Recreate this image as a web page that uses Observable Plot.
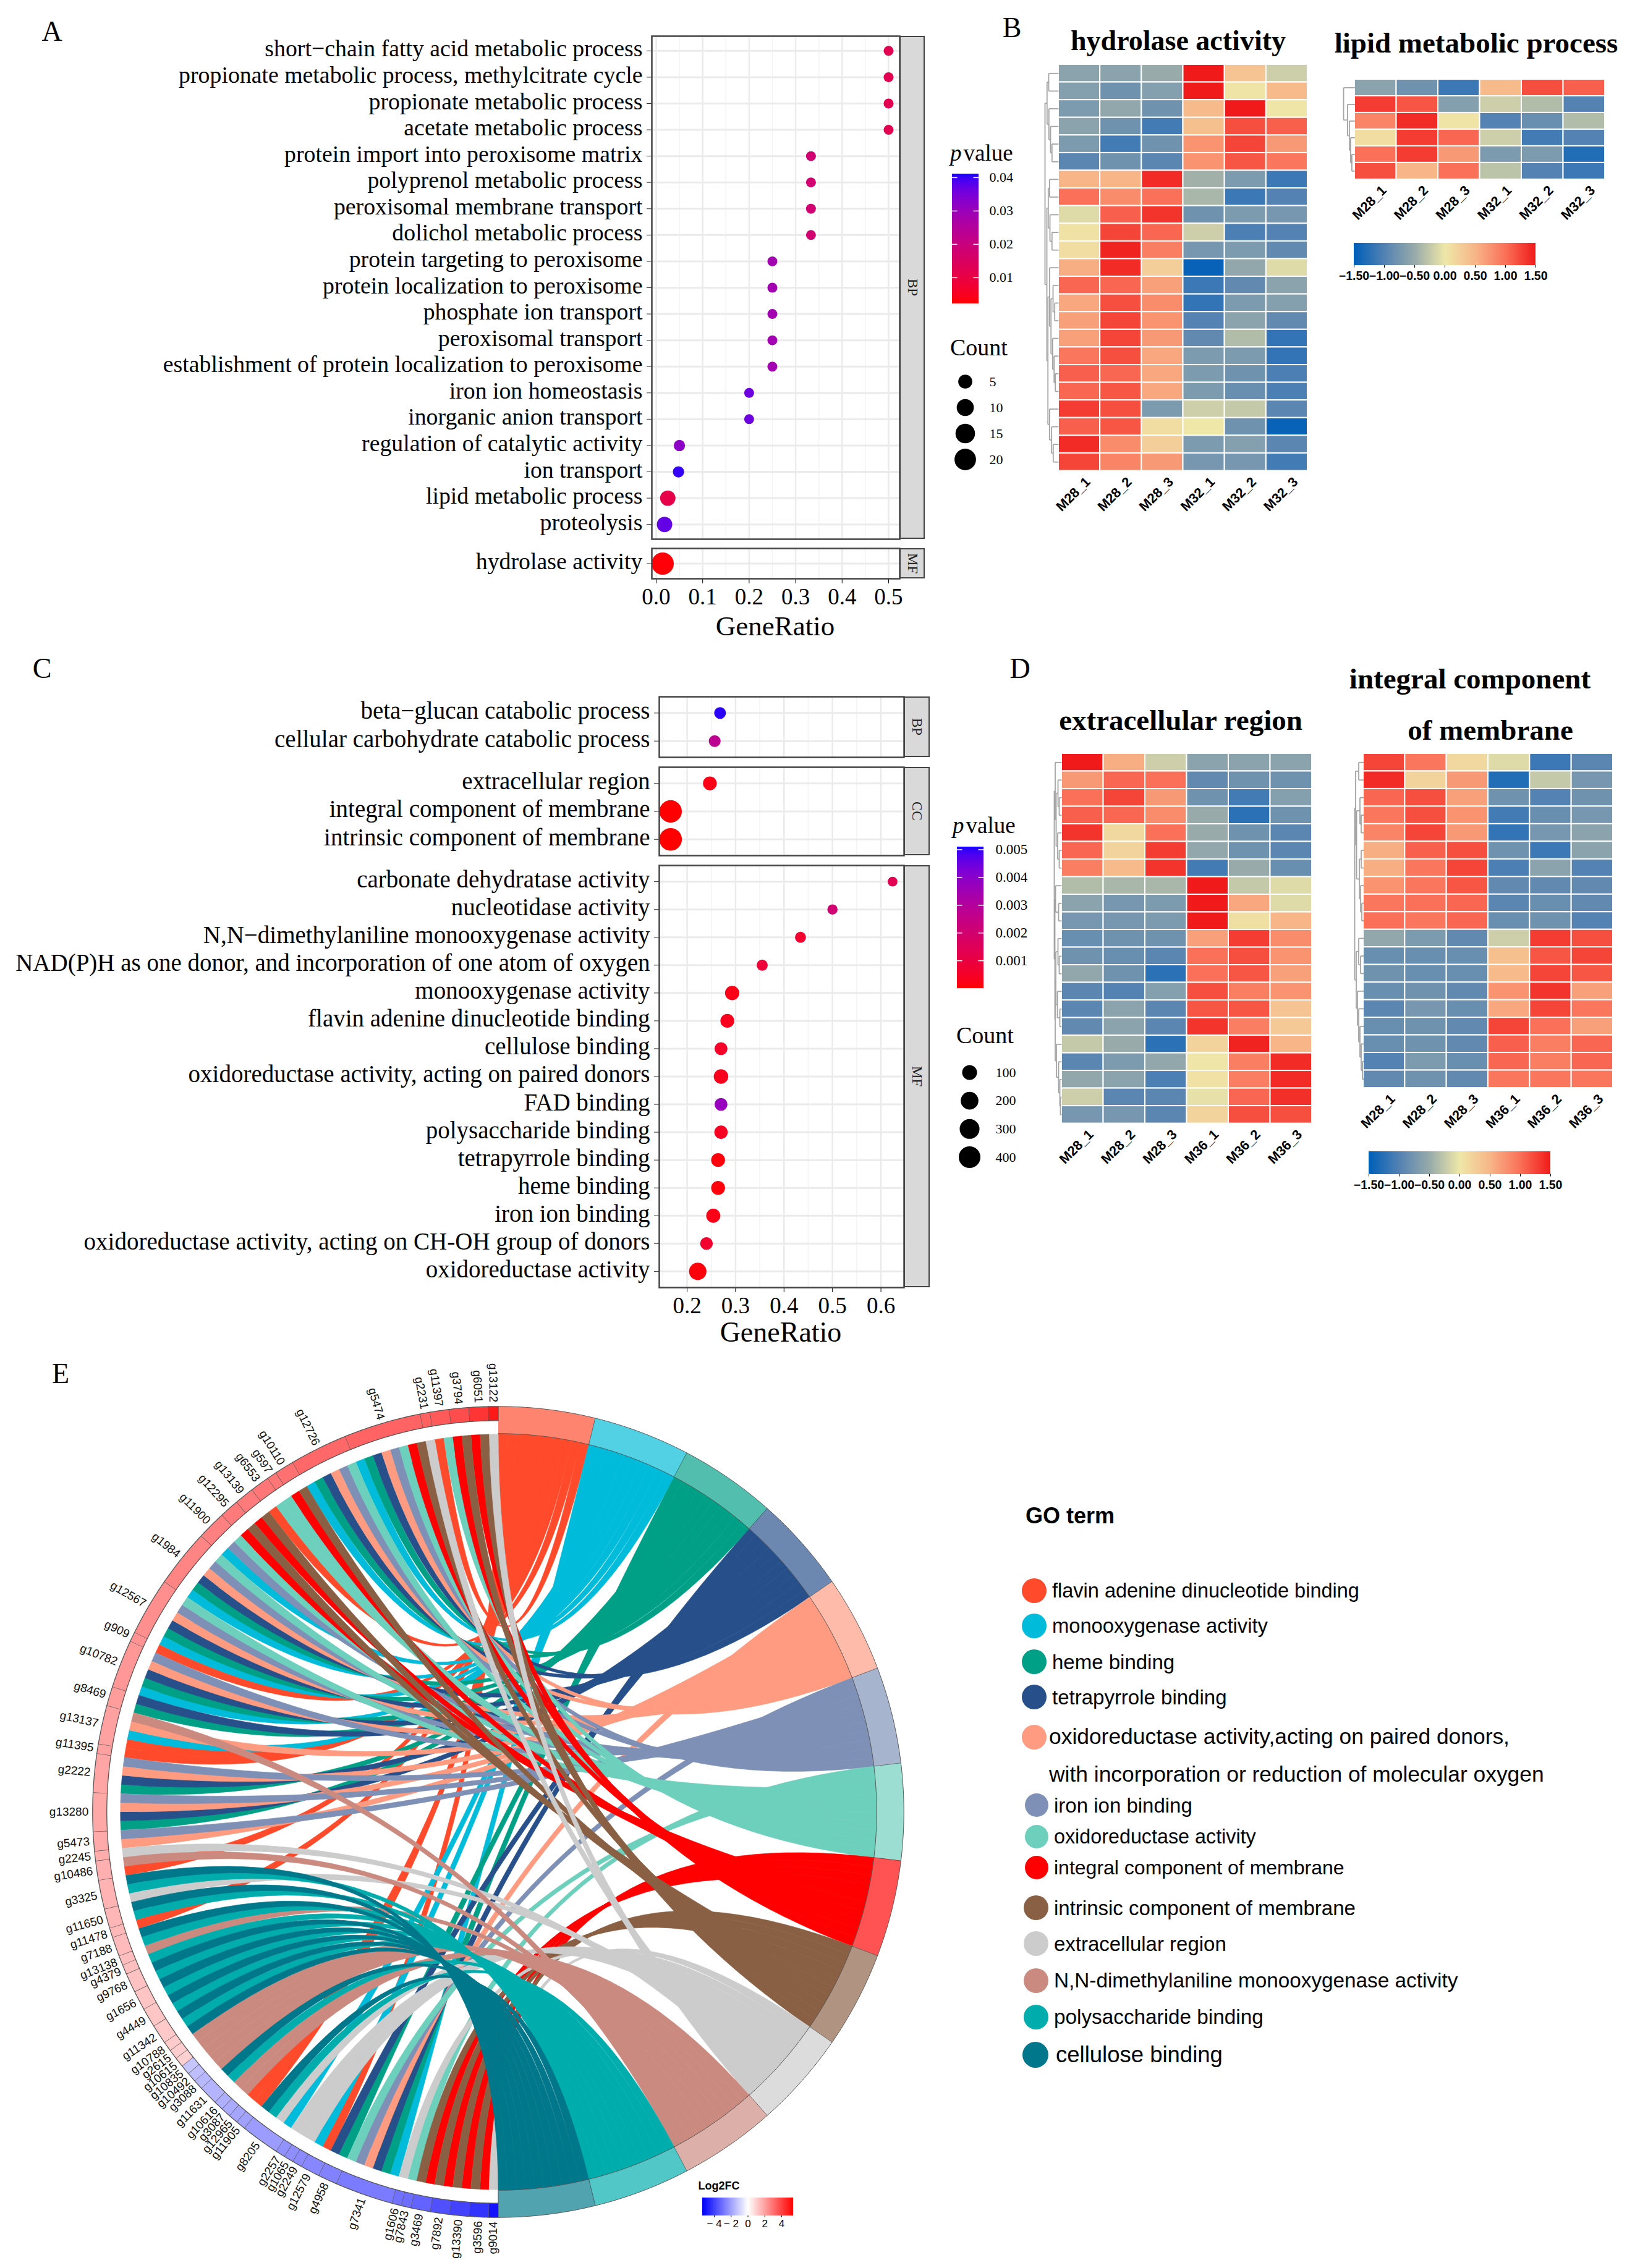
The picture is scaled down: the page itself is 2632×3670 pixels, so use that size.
<!doctype html>
<html><head><meta charset="utf-8">
<script src="https://cdn.jsdelivr.net/npm/d3@7"></script>
<script src="https://cdn.jsdelivr.net/npm/@observablehq/plot@0.6"></script>
<style>
html,body{margin:0;background:#fff}
#page{position:relative;width:2632px;height:3670px;overflow:hidden;background:#fff}
#page svg{position:absolute;overflow:visible;background:transparent;max-width:none}
.t{position:absolute;white-space:nowrap;line-height:1;color:#000}
.strip{position:absolute;box-sizing:border-box;background:#D9D9D9;border:2.5px solid #444;display:flex;align-items:center;justify-content:center;font:23px "Liberation Serif";color:#222;writing-mode:vertical-rl}
.dot{position:absolute;border-radius:50%}
</style></head><body><div id="page"></div>
<script>
// ---------- Panel A data ----------
const aTermsBP = ["short−chain fatty acid metabolic process","propionate metabolic process, methylcitrate cycle","propionate metabolic process","acetate metabolic process","protein import into peroxisome matrix","polyprenol metabolic process","peroxisomal membrane transport","dolichol metabolic process","protein targeting to peroxisome","protein localization to peroxisome","phosphate ion transport","peroxisomal transport","establishment of protein localization to peroxisome","iron ion homeostasis","inorganic anion transport","regulation of catalytic activity","ion transport","lipid metabolic process","proteolysis"];
const aRatioBP = [0.5,0.5,0.5,0.5,0.333,0.333,0.333,0.333,0.25,0.25,0.25,0.25,0.25,0.2,0.2,0.05,0.048,0.025,0.018];
const aCountBP = [1,1,1,1,1,1,1,1,1,1,1,1,1,1,1,2,2,7,7];
const aPBP = [0.012,0.012,0.012,0.012,0.0175,0.0175,0.0175,0.0175,0.0285,0.0285,0.0285,0.0285,0.0285,0.036,0.036,0.032,0.04,0.011,0.037];
const aTermsMF = ["hydrolase activity"];
const aRatioMF = [0.014];
const aCountMF = [22];
const aPMF = [0.0025];
const aTicks = [0,0.1,0.2,0.3,0.4,0.5];
const aMinor = [0.05,0.15,0.25,0.35,0.45];
const aColorTicks = [0.01,0.02,0.03,0.04];
const aCountTicks = [5,10,15,20];

// ---------- Panel C data ----------
const cTermsBP = ["beta−glucan catabolic process","cellular carbohydrate catabolic process"];
const cRatioBP = [0.268,0.257];
const cCountBP = [30,30];
const cPBP = [0.005,0.0027];
const cTermsCC = ["extracellular region","integral component of membrane","intrinsic component of membrane"];
const cRatioCC = [0.247,0.166,0.166];
const cCountCC = [70,450,460];
const cPCC = [0.0002,0,0];
const cTermsMF = ["carbonate dehydratase activity","nucleotidase activity","N,N−dimethylaniline monooxygenase activity","NAD(P)H as one donor, and incorporation of one atom of oxygen","monooxygenase activity","flavin adenine dinucleotide binding","cellulose binding","oxidoreductase activity, acting on paired donors","FAD binding","polysaccharide binding","tetrapyrrole binding","heme binding","iron ion binding","oxidoreductase activity, acting on CH-OH group of donors","oxidoreductase activity"];
const cRatioMF = [0.624,0.5,0.434,0.355,0.293,0.283,0.27,0.27,0.27,0.27,0.264,0.264,0.254,0.24,0.222];
const cCountMF = [6,10,18,20,85,70,50,90,50,60,72,72,78,45,190];
const cPMF = [0.0013,0.002,0.0006,0.0008,0.0002,0.0003,0.0005,0.0003,0.0037,0.0004,0.0001,0.0001,0.0002,0.0006,0.0001];
const cTicks = [0.2,0.3,0.4,0.5,0.6];
const cMinor = [0.15,0.25,0.35,0.45,0.55];
const cColorTicks = [0.001,0.002,0.003,0.004,0.005];
const cCountTicks = [100,200,300,400];

// ---------- Heatmaps ----------
const colsB = ["M28_1","M28_2","M28_3","M32_1","M32_2","M32_3"];
const colsD = ["M28_1","M28_2","M28_3","M36_1","M36_2","M36_3"];
const heatHydrolase = [
[-.6,-.6,-.5,1.5,.35,-.2],[-.65,-.8,-.65,1.5,.03,.45],[-.7,-.55,-.8,.45,1.5,.02],[-.6,-.8,-1.1,.4,1.2,1.1],
[-.7,-1.1,-.8,.75,1.25,.7],[-.95,-.8,-.95,.75,1.15,.95],[.5,.5,1.4,-.45,-.7,-1.15],[1.0,.8,1.0,-.4,-1.15,-1.0],
[-.1,1.1,1.35,-.8,-.7,-.75],[.05,1.25,1.05,-.2,-1.05,-1.0],[.1,1.45,.9,-.75,-.7,-.9],[.55,1.4,.25,-1.45,-.55,-.1],
[1.05,1.05,.65,-1.15,-.9,-.6],[.6,1.2,.8,-1.2,-.7,-.65],[.65,1.25,.75,-1.0,-.6,-.9],[.65,1.25,.7,-.9,-.35,-1.2],
[.95,1.2,.6,-.7,-.7,-1.2],[1.1,1.05,.6,-.7,-.8,-1.05],[1.05,1.15,.6,-.7,-.85,-1.05],[1.3,1.2,-.7,-.2,-.25,-.95],
[1.1,1.15,.1,0,-.8,-1.45],[1.4,.8,.25,-.7,-.65,-.95],[1.25,.85,.7,-.75,-.75,-1.1]];
const heatLipid = [
[-.6,-.8,-1.15,.45,1.2,1.1],[1.3,1.15,-.65,-.2,-.35,-1.0],[.85,1.4,.03,-1.0,-.85,-.35],
[.1,1.3,1.05,-.2,-1.1,-1.0],[1.0,1.3,.7,-.7,-.7,-1.3],[1.2,.5,1.0,-.3,-1.0,-1.15]];
const heatExtracellular = [
[1.5,.55,-.2,-.6,-.6,-.6],[.7,1.05,1.0,-.9,-.8,-.8],[1.0,1.25,.7,-.8,-1.1,-.65],[1.1,1.05,.8,-.5,-1.25,-.8],
[1.35,.15,1.0,-.5,-.8,-.95],[1.05,.2,1.3,-.55,-.8,-.95],[.9,.45,1.35,-1.1,-.5,-.85],[-.35,-.4,-.4,1.5,-.25,-.1],
[-.6,-.75,-.7,1.5,.6,-.1],[-.75,-.75,-.7,1.5,.08,.5],[-.85,-.8,-.8,.65,1.3,.8],[-.8,-.85,-.95,1.0,1.2,.75],
[-.55,-.8,-1.25,1.0,1.15,.65],[-.95,-1.0,-.65,1.2,.9,.75],[-.95,-.6,-.95,1.15,1.15,.35],[-.9,-.6,-.95,1.35,.9,.3],
[-.25,-.5,-1.25,.2,1.45,.5],[-.95,-.7,-.55,.02,.9,1.4],[-.55,-.6,-1.05,.05,.9,1.4],[-.2,-.95,-.95,-.05,1.05,1.38],[-.75,-.75,-.95,.2,1.2,1.2]];
const heatIntegral = [
[1.25,.95,.15,-.1,-1.15,-.95],[1.4,.2,.7,-1.3,-.25,-.75],[1.05,1.2,.65,-.8,-1.0,-.8],[.95,1.2,.75,-1.1,-.85,-.75],
[.85,1.25,.7,-1.2,-.75,-.6],[.55,1.1,1.2,-.8,-1.15,-.6],[.55,.95,1.25,-1.05,-.6,-1.0],[.75,.95,1.15,-.9,-.9,-.9],
[.95,1.0,1.05,-.95,-.85,-.9],[1.0,.95,1.05,-.85,-.8,-1.0],[-.55,-.7,-.9,-.2,1.3,1.2],[-.85,-.85,-.85,.4,1.15,1.25],
[-.8,-.85,-.85,.45,1.25,1.15],[-.85,-.8,-.9,.75,1.35,.65],[-.95,-.75,-.85,.6,1.25,.95],[-.85,-.8,-.9,1.25,1.0,.65],
[-.85,-.8,-.9,1.1,.9,1.05],[-1.0,-.7,-.85,1.05,.9,1.05],[-.9,-.8,-.9,.95,.95,.95]];
const heatTicks = [-1.5,-1,-.5,0,.5,1,1.5];
const heatStops = [-1.5,-1,-.5,0,.5,1,1.5];
const heatRamp = ["#0060B8","#5482B3","#98ABAA","#EFE7A8","#F7B588","#FA7058","#F01A1A"];
// dendrograms: [merge height, left branch, right branch]; numbers are row numbers
const treeHydrolase = [22,[18.7,[16,1,2],[15.7,3,[13,4,[10.7,5,6]]]],[19,[16.7,[14.7,7,8],[14,9,[10.7,10,11]]],[17.3,[14.7,12,[12.3,[9,13,[6.3,14,15]],[9.7,16,[7.3,17,[5.3,18,19]]]]],[14.7,20,[11.3,21,[8.7,22,23]]]]]];
const treeLipid = [18.4,1,[12,2,[9,3,[7,4,[5,5,6]]]]];
const treeExtracellular = [12,[10.5,1,[9,[6,2,[4,3,4]],[6.5,5,[4,6,7]]]],[11,[10,8,[5,9,10]],[10.5,[9.5,[6,11,[4,12,13]],[7,14,[3,15,16]]],[8.5,17,[5,18,[3,19,[2,20,21]]]]]]];
const treeIntegral = [14.5,[13,[8,1,2],[11.5,[6,3,[4,4,5]],[7,[4,6,7],[5,8,[3,9,10]]]]],[12,[8,11,[5,12,13]],[10,14,[8,15,[6,16,[4,17,[2,18,19]]]]]]];

// ---------- Chord ----------
const termCodes = ["F","M","H","T","P","I","O","R","B","E","N","S","C"];
const termNames = ["flavin adenine dinucleotide binding","monooxygenase activity","heme binding","tetrapyrrole binding","oxidoreductase activity,acting on paired donors,","iron ion binding","oxidoreductase activity","integral component of membrane","intrinsic component of membrane","extracellular region","N,N-dimethylaniline monooxygenase activity","polysaccharide binding","cellulose binding"];
const termColors = ["#FF4A2B","#00BBD9","#00A087","#27508A","#FF9B80","#7E90B5","#6DD0BC","#FF0000","#8A6044","#CCCCCC","#CB8A80","#00ADAD","#00778A"];
const genes = ["g9014","g3596","g13390","g7892","g3469","g7843","g1606","g7341","g4958","g12579","g2249","g1065","g2257","g8205","g11905","g12965","g3087","g10616","g11631","g3088","g10492","g10835","g10615","g2615","g10788","g11342","g4449","g1656","g9768","g4379","g13138","g7188","g11478","g11650","g3325","g10486","g2245","g5473","g13280","g2222","g11395","g13137","g8469","g10782","g909","g12567","g1984","g11900","g12295","g13139","g6553","g597","g10110","g12726","g5474","g2231","g11397","g3794","g6051","g13122"];
const geneLogFC = [-5,-4.3,-4,-3.7,-3.3,-3.1,-3,-2.8,-2.65,-2.55,-2.45,-2.4,-2.3,-2.1,-2,-1.9,-1.8,-1.7,-1.6,-1.5,-1.4,-1.2,1,1.05,1.1,1.15,1.2,1.25,1.3,1.35,1.4,1.45,1.5,1.55,1.6,1.7,1.75,1.8,1.85,1.9,2,2,2.1,2.2,2.3,2.4,2.6,2.7,2.8,2.8,2.9,2.9,3,3.2,3.3,3.35,3.5,3.8,4.3,4.9];
const geneTerms = ["E","RB","RB","RB","RB","O","E","MHTPIO","HT","FM","E","E","E","MESC","F","F","N","N","SC","N","N","N","N","N","C","SC","SC","SC","SC","S","N","SC","F","SC","ESC","FN","E","PI","HTPI","HTPI","F","FMPN","HT","MHTPI","F","MHTPIO","MHTPIO","MIO","RB","RB","FO","O","RB","MHTPIO","MHTPIORB","E","FO","RB","RB","E"];
const fcTicks = [-4,-2,0,2,4];

// ---------- helpers ----------
const page = document.getElementById("page");
const SERIF = '"Liberation Serif"', SANS = '"Liberation Sans"';
function put(node,left,top){node.style.left=left+"px";node.style.top=top+"px";page.appendChild(node);return node;}
function txt(s,x,y,{size=38,font=SERIF,weight="normal",anchor="center",html=false}={}){
  const d=document.createElement("div");d.className="t";
  if(html)d.innerHTML=s;else d.textContent=s;
  d.style.fontFamily=font;d.style.fontSize=size+"px";d.style.fontWeight=weight;
  d.style.transform=anchor==="center"?"translate(-50%,-50%)":"translate(0,-50%)";
  return put(d,x,y);
}
function strip(label,l,t,r,b){const d=document.createElement("div");d.className="strip";d.textContent=label;d.style.width=(r-l)+"px";d.style.height=(b-t)+"px";return put(d,l,t);}

function dotPanel({terms,ratio,count,p,left,right,top,bottom,xDomain,ticks,minor,color,r,labelSize,pad=0.58,axis=null}){
  const rows=terms.map((t,i)=>({term:t,ratio:ratio[i],count:count[i],p:p[i]}));
  const mb=axis?axis.mb:0;
  const svg=Plot.plot({width:right,height:bottom-top+mb,marginLeft:left,marginRight:0,marginTop:0,marginBottom:mb,
    style:{fontFamily:SERIF,background:"transparent",overflow:"visible"},
    x:{domain:xDomain,axis:null},y:{type:"point",domain:terms,padding:pad,round:false,axis:null},color,r,
    marks:[
      Plot.ruleX(minor,{stroke:"#F3F3F3",strokeWidth:1.5}),
      Plot.ruleX(ticks,{stroke:"#EBEBEB",strokeWidth:2.5}),
      Plot.ruleY(terms,{stroke:"#EBEBEB",strokeWidth:3}),
      Plot.axisY({anchor:"left",tickSize:8,tickFormat:()=>"",label:null,stroke:"#333"}),
      Plot.axisY({anchor:"left",tickSize:0,tickPadding:15,dy:-3,fontSize:labelSize,label:null}),
      ...(axis?[Plot.axisX(ticks,{anchor:"bottom",tickSize:8,tickPadding:7,fontSize:37,label:null,tickFormat:d3.format(".1f")})]:[]),
      Plot.dot(rows,{x:"ratio",y:"term",r:"count",fill:"p"}),
      Plot.frame({stroke:"#444",strokeWidth:2.5})
    ]});
  return put(svg,0,top);
}
function colorBarV({x0,x1,y0,y1,domain,ticks,color,fmt,size,gap}){
  const n=160,vals=d3.range(n).map(i=>domain[0]+(domain[1]-domain[0])*i/n);
  const w=x1-x0;
  const svg=Plot.plot({width:w+80,height:y1-y0,marginLeft:0,marginRight:80,marginTop:0,marginBottom:0,
    style:{fontFamily:SERIF,background:"transparent",overflow:"visible"},
    x:{domain:[0,1],axis:null},y:{domain,axis:null},color,
    marks:[
      Plot.rect(vals,{x1:0,x2:1,y1:d=>d,y2:domain[1],fill:d=>d}),
      Plot.ruleY(ticks,{x1:0,x2:0.2,stroke:"white",strokeWidth:1.5}),
      Plot.ruleY(ticks,{x1:0.8,x2:1,stroke:"white",strokeWidth:1.5}),
      Plot.axisY(ticks,{anchor:"right",tickSize:0,tickPadding:gap,fontSize:size,label:null,tickFormat:fmt})
    ]});
  return put(svg,x0,y0);
}
function countLegend({x,y0,y1,ticks,r,size,gap}){
  const svg=Plot.plot({width:120,height:y1-y0,marginLeft:0,marginRight:0,marginTop:0,marginBottom:0,
    style:{fontFamily:SERIF,background:"transparent",overflow:"visible"},
    x:{axis:null},y:{type:"point",domain:ticks,padding:0,round:false,axis:null},r,
    marks:[
      Plot.dot(ticks,{y:d=>d,r:d=>d,frameAnchor:"left",fill:"black"}),
      Plot.text(ticks,{y:d=>d,text:d=>String(d),frameAnchor:"left",dx:gap,textAnchor:"start",fontSize:size})
    ]});
  return put(svg,x,y0);
}
const heatColor={type:"linear",domain:heatStops,range:heatRamp,clamp:true};
function heat({matrix,cols,left,top,right,bottom}){
  const cells=matrix.flatMap((row,i)=>row.map((v,j)=>({row:i+1,col:cols[j],v})));
  const svg=Plot.plot({width:right-left,height:bottom-top+70,marginLeft:0,marginRight:0,marginTop:0,marginBottom:70,
    style:{fontFamily:SANS,background:"transparent",overflow:"visible"},
    x:{type:"band",domain:cols,axis:null,padding:0,round:false},y:{type:"band",domain:matrix.map((_,i)=>i+1),axis:null,padding:0,round:false},color:heatColor,
    marks:[
      Plot.cell(cells,{x:"col",y:"row",fill:"v",stroke:"white",strokeWidth:2}),
      Plot.axisX({anchor:"bottom",tickSize:0,tickPadding:14,tickRotate:-45,fontSize:22,fontWeight:"bold",label:null,dx:14})
    ]});
  return put(svg,left,top);
}
function dendro({tree,n,left,top,bottom}){
  const segs=[];
  const walk=node=>{
    if(typeof node==="number")return {h:0,y:node};
    const [h,a,b]=node,A=walk(a),B=walk(b);
    segs.push({x1:h,y1:A.y,x2:h,y2:B.y},{x1:A.h,y1:A.y,x2:h,y2:A.y},{x1:B.h,y1:B.y,x2:h,y2:B.y});
    return {h,y:(A.y+B.y)/2};
  };
  walk(tree);
  const H=tree[0];
  const svg=Plot.plot({width:H,height:bottom-top,marginLeft:0,marginRight:0,marginTop:0,marginBottom:0,
    style:{background:"transparent",overflow:"visible"},
    x:{domain:[H,0],axis:null},y:{domain:[n+.5,.5],axis:null},
    marks:[Plot.link(segs,{x1:"x1",y1:"y1",x2:"x2",y2:"y2",stroke:"#A4A4A4",strokeWidth:1.8})]});
  return put(svg,left-H,top);
}
function hBar({x0,x1,y0,y1,domain,ticks,color,fmt,size,weight,tick,pad=3,n=200}){
  const vals=d3.range(n).map(i=>domain[0]+(domain[domain.length-1]-domain[0])*i/n);
  const hi=domain[domain.length-1];
  const svg=Plot.plot({width:x1-x0,height:y1-y0+30,marginLeft:0,marginRight:0,marginTop:0,marginBottom:30,
    style:{fontFamily:SANS,background:"transparent",overflow:"visible"},
    x:{domain:[domain[0],hi],axis:null},y:{domain:[0,1],axis:null},color,
    marks:[
      Plot.rect(vals,{x1:d=>d,x2:hi,y1:0,y2:1,fill:d=>d}),
      Plot.axisX(ticks,{anchor:"bottom",tickSize:tick,tickPadding:pad,fontSize:size,fontWeight:weight,label:null,tickFormat:fmt})
    ]});
  return put(svg,x0,y0);
}

// ---------- Panel A ----------
const aColor={type:"linear",domain:[0.0022,0.0411],range:["#ff0000","#0000ff"],interpolate:d3.interpolateLab,clamp:true};
const aR={type:"sqrt",domain:[1,22],range:[8,18]};
const aX=[-0.0093,0.524];
dotPanel({terms:aTermsBP,ratio:aRatioBP,count:aCountBP,p:aPBP,left:1054,right:1455,top:58,bottom:872,xDomain:aX,ticks:aTicks,minor:aMinor,color:aColor,r:aR,labelSize:37.8,pad:0.56});
dotPanel({terms:aTermsMF,ratio:aRatioMF,count:aCountMF,p:aPMF,left:1054,right:1455,top:887,bottom:936,xDomain:aX,ticks:aTicks,minor:aMinor,color:aColor,r:aR,labelSize:37.8,pad:0.5,axis:{mb:60}});
strip("BP",1455,58,1496,872);strip("MF",1455,887,1496,936);
txt("GeneRatio",1254,1013,{size:45});
txt('<i>p</i>&#8202;value',1537,247,{size:37,anchor:"left",html:true});
colorBarV({x0:1540,x1:1583,y0:281,y1:491,domain:[0.0022,0.0411],ticks:aColorTicks,color:aColor,fmt:d3.format(".2f"),size:22,gap:17});
txt("Count",1537,562,{size:38,anchor:"left"});
countLegend({x:1561,y0:617,y1:743,ticks:aCountTicks,r:aR,size:22,gap:39});

// ---------- Panel C ----------
const cColor={type:"linear",domain:[0,0.0051],range:["#ff0000","#0000ff"],interpolate:d3.interpolateLab,clamp:true};
const cR={type:"sqrt",domain:[3,460],range:[7.5,18.3]};
const cX=[0.1426,0.6477];
dotPanel({terms:cTermsBP,ratio:cRatioBP,count:cCountBP,p:cPBP,left:1066,right:1462,top:1127,bottom:1225,xDomain:cX,ticks:cTicks,minor:cMinor,color:cColor,r:cR,labelSize:39});
dotPanel({terms:cTermsCC,ratio:cRatioCC,count:cCountCC,p:cPCC,left:1066,right:1462,top:1241,bottom:1384,xDomain:cX,ticks:cTicks,minor:cMinor,color:cColor,r:cR,labelSize:39});
dotPanel({terms:cTermsMF,ratio:cRatioMF,count:cCountMF,p:cPMF,left:1066,right:1462,top:1400,bottom:2083,xDomain:cX,ticks:cTicks,minor:cMinor,color:cColor,r:cR,labelSize:39,axis:{mb:60}});
strip("BP",1462,1127,1504,1225);strip("CC",1462,1241,1504,1384);strip("MF",1462,1400,1504,2083);
txt("GeneRatio",1263,2156,{size:46});
txt('<i>p</i>&#8202;value',1541,1335,{size:37,anchor:"left",html:true});
colorBarV({x0:1548,x1:1591,y0:1370,y1:1599,domain:[0,0.0051],ticks:cColorTicks,color:cColor,fmt:d3.format(".3f"),size:23,gap:19});
txt("Count",1547,1675,{size:38,anchor:"left"});
countLegend({x:1568,y0:1735,y1:1872,ticks:cCountTicks,r:cR,size:22,gap:42});

// ---------- Panel B / D ----------
const fmt2=d=>d3.format(".2f")(d).replace("-","−");
heat({matrix:heatHydrolase,cols:colsB,left:1712,top:103.5,right:2115,bottom:761});
dendro({tree:treeHydrolase,n:23,left:1712,top:103.5,bottom:761});
heat({matrix:heatLipid,cols:colsB,left:2191,top:127.6,right:2596,bottom:289.5});
dendro({tree:treeLipid,n:6,left:2191,top:127.6,bottom:289.5});
hBar({x0:2190,x1:2484,y0:393,y1:429,domain:[-1.5,1.5],ticks:heatTicks,color:heatColor,fmt:fmt2,size:19.5,weight:"bold",tick:4,pad:6});
heat({matrix:heatExtracellular,cols:colsD,left:1717,top:1219,right:2122,bottom:1817.6});
dendro({tree:treeExtracellular,n:21,left:1717,top:1219,bottom:1817.6});
heat({matrix:heatIntegral,cols:colsD,left:2205,top:1219,right:2609,bottom:1760});
dendro({tree:treeIntegral,n:19,left:2205,top:1219,bottom:1760});
hBar({x0:2214,x1:2508,y0:1863,y1:1899.6,domain:[-1.5,1.5],ticks:heatTicks,color:heatColor,fmt:fmt2,size:19.5,weight:"bold",tick:4,pad:6});
txt("hydrolase activity",1906,66,{size:46,weight:"bold"});
txt("lipid metabolic process",2388,68.6,{size:47,weight:"bold"});
txt("extracellular region",1910,1165,{size:47,weight:"bold"});
txt("integral component",2378,1098,{size:47,weight:"bold"});
txt("of membrane",2411,1181,{size:47,weight:"bold"});

// ---------- Panel letters ----------
txt("A",84,51,{size:46});txt("B",1637,45,{size:46});txt("C",68,1082,{size:46});txt("D",1650,1082,{size:46});txt("E",98,2223,{size:46});

// ---------- Panel E: chord ----------
const RING=656, rGene0=633/RING, rGene1=1, rRib=611/RING, rTerm0=612/RING, rTerm1=1;
const K=1.13, SIZE=Math.round(2*K*RING), CX=805, CY=2931;
const pol=(r,deg)=>{const a=deg*Math.PI/180;return {x:r*Math.sin(a),y:r*Math.cos(a)};};
const arc=(r,a,b)=>{const n=Math.max(2,Math.ceil(Math.abs(b-a)/0.25));return d3.range(n+1).map(i=>pol(r,a+(b-a)*i/n));};
const bez=(p,q)=>d3.range(1,40).map(i=>{const t=i/40,u=(1-t)*(1-t),v=t*t;return {x:u*p.x+v*q.x,y:u*p.y+v*q.y};});
const total=d3.sum(geneTerms,s=>s.length), unit=180/total;
const slots=[];let pos=180;
const geneCells=[];
genes.forEach((g,i)=>{
  const a0=pos;
  geneTerms[i].split("").forEach(c=>{slots.push({gene:i,term:termCodes.indexOf(c),a:pos,b:pos+unit});pos+=unit;});
  geneCells.push({gene:g,fc:geneLogFC[i],a:a0,b:pos});
});
const span=180/termCodes.length;
const ribbonPts=[];
termCodes.forEach((c,ti)=>{
  const mine=slots.filter(s=>s.term===ti),w=span/mine.length;
  mine.forEach((s,k)=>{
    const t0=ti*span+k*w,t1=t0+w,id=ti+"-"+k;
    const g=arc(rRib,s.a,s.b),tt=arc(rTerm0,t0,t1);
    const path=[...g,...bez(g[g.length-1],tt[0]),...tt,...bez(tt[tt.length-1],g[0])];
    path.forEach(p=>ribbonPts.push({id,term:termNames[ti],x:p.x,y:p.y}));
  });
});
const termRing=termCodes.flatMap((c,ti)=>[...arc(rTerm1,ti*span,(ti+1)*span),...arc(rTerm0,(ti+1)*span,ti*span)].map(p=>({id:ti,term:termNames[ti],x:p.x,y:p.y})));
const geneRing=geneCells.flatMap(c=>[...arc(rGene1,c.a,c.b),...arc(rGene0,c.b,c.a)].map(p=>({id:c.gene,fc:c.fc,x:p.x,y:p.y})));
const geneLabels=geneCells.map(c=>{const m=(c.a+c.b)/2,p=pol(1.01,m);return {gene:c.gene,x:p.x,y:p.y,rot:m-270};});
const sq={x:{domain:[-K,K],axis:null},y:{domain:[-K,K],axis:null}};
put(Plot.plot({width:SIZE,height:SIZE,margin:0,...sq,style:{background:"transparent",overflow:"visible"},
  color:{type:"ordinal",domain:termNames,range:termColors},
  marks:[
    Plot.line(ribbonPts,{x:"x",y:"y",z:"id",fill:"term",stroke:"term",strokeWidth:0.7}),
    Plot.line(termRing,{x:"x",y:"y",z:"id",fill:"term",fillOpacity:0.68,stroke:"#555",strokeWidth:1})
  ]}),CX-SIZE/2,CY-SIZE/2);
const fcColor={type:"linear",domain:[-5.4,0,5.4],range:["#0000ff","#ffffff","#ff0000"]};
put(Plot.plot({width:SIZE,height:SIZE,margin:0,...sq,style:{background:"transparent",overflow:"visible",fontFamily:SANS},
  color:fcColor,
  marks:[
    Plot.line(geneRing,{x:"x",y:"y",z:"id",fill:"fc",stroke:"#555",strokeWidth:1.3}),
    Plot.text(geneLabels,{x:"x",y:"y",text:"gene",rotate:"rot",textAnchor:"end",fontSize:19,fill:"#111"})
  ]}),CX-SIZE/2,CY-SIZE/2);
txt("Log2FC",1163,3537,{size:18,font:SANS,weight:"bold"});
hBar({x0:1136,x1:1283,y0:3556,y1:3585,domain:[-5.4,5.4],ticks:fcTicks,color:fcColor,fmt:d=>String(d).replace("-","− "),size:17,weight:"normal",tick:3});

// ---------- GO term legend ----------
txt("GO term",1659,2453,{size:36,font:SANS,weight:"bold",anchor:"left"});
const legendRows=[[1673,2574,1702,32.5,20],[1673,2631,1702,32.7,20],[1673,2689,1702,33,20],[1673,2746,1702,33,20],[1673,2811,1697,35.4,20],[1677,2921,1705,33,19],[1677,2972,1705,32.3,19],[1677,3022,1705,32,19],[1676,3087,1705,33,20],[1676,3145,1705,33,20],[1676,3205,1705,33.3,20],[1676,3264,1705,33.3,20],[1675,3325,1708,36.5,21]];
termNames.forEach((name,i)=>{
  const [dx,y,tx,fs,r]=legendRows[i],d=document.createElement("div");
  d.className="dot";d.style.width=d.style.height=(2*r)+"px";d.style.background=termColors[i];
  put(d,dx-r,y-r);
  txt(name,tx,y,{size:fs,font:SANS,anchor:"left"});
});
txt("with incorporation or reduction of molecular oxygen",1697,2872,{size:35.4,font:SANS,anchor:"left"});
</script></body></html>
